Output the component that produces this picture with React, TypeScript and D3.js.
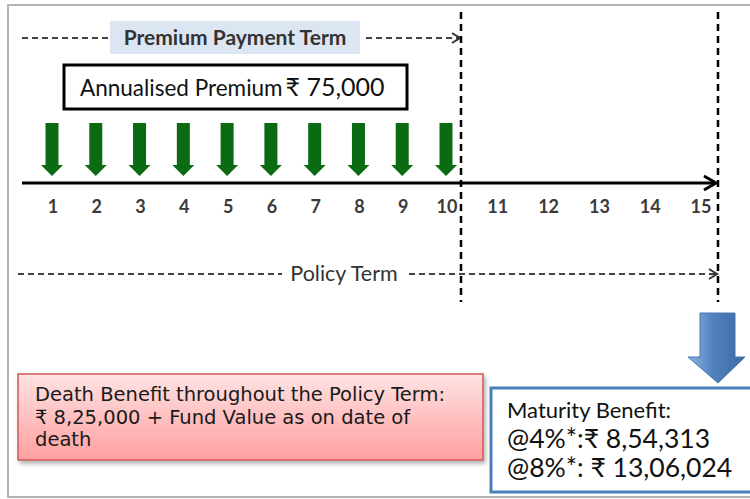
import React from "react";
import * as d3 from "d3";

// timeline data
const years = d3.range(1, 16);
const premiumYears = d3.range(1, 11);
const premiumTerm = 10;
const policyTerm = 15;
const annualPremium = "₹ 75,000";
const deathBenefitLines = [
  "Death Benefit throughout the Policy Term:",
  "₹ 8,25,000 + Fund Value as on date of",
  "death",
];
const maturityLines = ["Maturity Benefit:", "@4%*:₹ 8,54,313", "@8%*: ₹ 13,06,024"];

const W = 750;
const H = 499;
const calibri = "Lato, 'Open Sans', sans-serif";

const App: React.FC = () => {
  // piecewise scale: premium years are packed a bit tighter than the rest
  const x = d3.scaleLinear().domain([1, premiumTerm, policyTerm]).range([53, 447, 701]);
  const axisY = 183;
  const ppEnd = x(premiumTerm) + 14;
  const ptEnd = x(policyTerm) + 17;

  const arrowTop = 123;
  const headTop = 165;
  const arrowTip = 176;

  const dash = "6,4";

  return (
    <svg
      width={W}
      height={H}
      style={{ position: "absolute", left: 0, top: 0 }}
      fontFamily={calibri}
    >
      <defs>
        <linearGradient id="pink" x1="0" y1="0" x2="0" y2="1">
          <stop offset="0%" stopColor="#ffe3e3" />
          <stop offset="100%" stopColor="#ff9f9f" />
        </linearGradient>
        <linearGradient id="blueArrow" x1="0" y1="0" x2="1" y2="0">
          <stop offset="0%" stopColor="#8db4e2" />
          <stop offset="45%" stopColor="#4f81bd" />
          <stop offset="100%" stopColor="#3a6aa5" />
        </linearGradient>
        <filter id="shadow" x="-5%" y="-10%" width="115%" height="130%">
          <feDropShadow dx="2" dy="3" stdDeviation="2" floodColor="#000" floodOpacity="0.3" />
        </filter>
      </defs>

      <rect x={0} y={0} width={W} height={H} fill="#fff" />
      <rect x={8} y={5} width={W} height={492} fill="#fff" stroke="#b5b5b5" strokeWidth={2} />

      {/* premium payment term */}
      <line x1={22} x2={108} y1={38} y2={38} stroke="#444" strokeWidth={2} strokeDasharray={dash} />
      <rect x={110} y={21} width={250} height={33} fill="#dce6f2" />
      <text x={235} y={45} textAnchor="middle" fontSize={21} fontWeight="bold" fill="#333">
        Premium Payment Term
      </text>
      <line x1={366} x2={ppEnd - 2} y1={38} y2={38} stroke="#444" strokeWidth={2} strokeDasharray={dash} />
      <path d={`M${ppEnd - 9},33 L${ppEnd - 1},38 L${ppEnd - 9},43`} fill="none" stroke="#333" strokeWidth={2} />

      {/* annualised premium */}
      <rect x={64} y={65} width={343} height={44} fill="#fff" stroke="#000" strokeWidth={3} />
      <text x={80} y={96} fill="#111">
        <tspan fontSize={22.5}>Annualised Premium</tspan>
        <tspan fontSize={25} dx={3}>{annualPremium}</tspan>
      </text>

      {/* vertical dashed boundaries */}
      {[ppEnd, ptEnd].map((v, i) => (
        <line key={i} x1={v} x2={v} y1={12} y2={302} stroke="#000" strokeWidth={2.5} strokeDasharray="7,5" />
      ))}

      {/* premium arrows */}
      {premiumYears.map((yr) => {
        const cx = x(yr) - 1;
        return (
          <path
            key={yr}
            d={`M${cx - 6.5},${arrowTop} L${cx + 6.5},${arrowTop} L${cx + 6.5},${headTop} L${cx + 11},${headTop} L${cx},${arrowTip} L${cx - 11},${headTop} L${cx - 6.5},${headTop} Z`}
            fill="#0b6b12"
          />
        );
      })}

      {/* time axis */}
      <line x1={22} x2={ptEnd - 2} y1={axisY} y2={axisY} stroke="#000" strokeWidth={3} />
      <path
        d={`M${ptEnd - 14},${axisY - 7} L${ptEnd - 2},${axisY} L${ptEnd - 14},${axisY + 7}`}
        fill="none"
        stroke="#000"
        strokeWidth={3}
      />
      {years.map((yr) => (
        <text key={yr} x={x(yr)} y={213} textAnchor="middle" fontSize={18} fontWeight="bold" fill="#3a3a3a">
          {yr}
        </text>
      ))}

      {/* policy term */}
      <line x1={18} x2={282} y1={274} y2={274} stroke="#444" strokeWidth={2} strokeDasharray={dash} />
      <text x={344} y={281} textAnchor="middle" fontSize={21.5} fill="#333">
        Policy Term
      </text>
      <line x1={409} x2={ptEnd - 2} y1={274} y2={274} stroke="#444" strokeWidth={2} strokeDasharray={dash} />
      <path d={`M${ptEnd - 9},269 L${ptEnd - 1},274 L${ptEnd - 9},279`} fill="none" stroke="#333" strokeWidth={2} />

      {/* maturity arrow */}
      <path
        d={`M${ptEnd - 18},313 L${ptEnd + 17},313 L${ptEnd + 17},357 L${ptEnd + 27},357 L${ptEnd},383 L${ptEnd - 30},357 L${ptEnd - 18},357 Z`}
        fill="url(#blueArrow)"
        stroke="#4a76ad"
        strokeWidth={1}
      />

      {/* death benefit */}
      <rect
        x={18}
        y={374}
        width={465}
        height={86}
        fill="url(#pink)"
        stroke="#d0575a"
        strokeWidth={1.5}
        filter="url(#shadow)"
      />
      {deathBenefitLines.map((t, i) => (
        <text key={i} x={35} y={401 + i * 22.5} fontSize={19.5} fontFamily="'DejaVu Sans', sans-serif" fill="#1a1a1a">
          {t}
        </text>
      ))}

      {/* maturity benefit */}
      <rect x={491} y={388} width={270} height={104} fill="#fff" stroke="#4a7ebb" strokeWidth={3} />
      {maturityLines.map((t, i) => (
        <text key={i} x={507} y={i === 0 ? 418 : 448 + (i - 1) * 29} fontSize={i === 0 ? 22 : 26.5} fill="#111">
          {t}
        </text>
      ))}
    </svg>
  );
};

export default App;
